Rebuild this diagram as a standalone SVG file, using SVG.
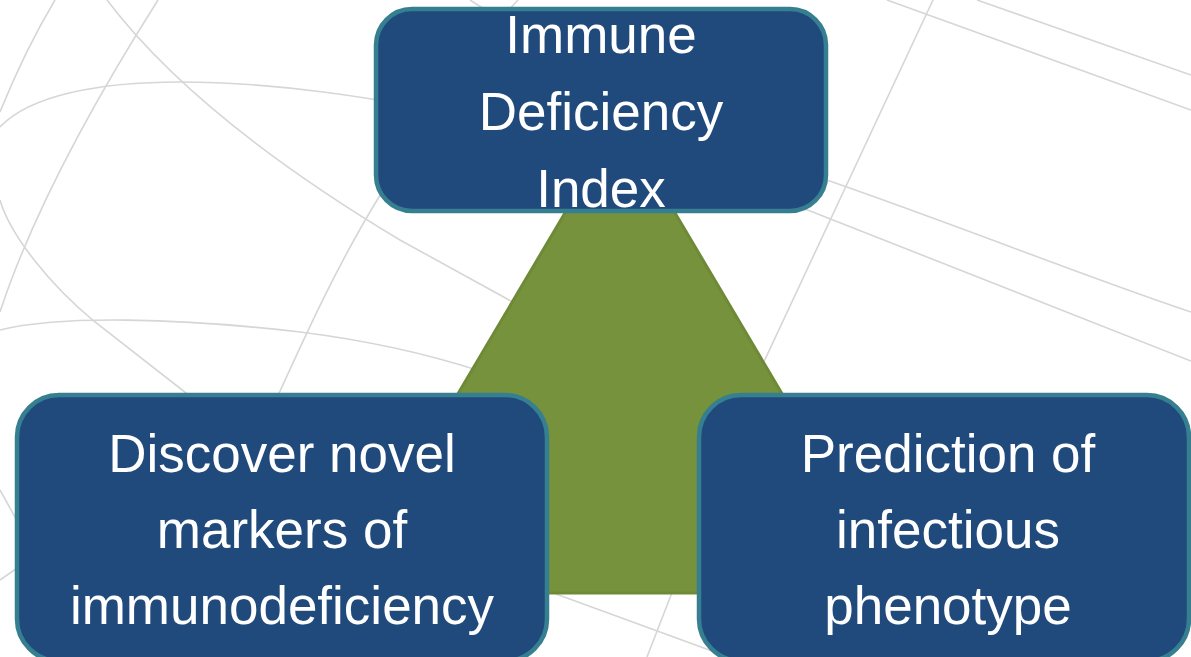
<svg xmlns="http://www.w3.org/2000/svg" width="1191" height="657" viewBox="0 0 1191 657">
  <style>
    .bg { fill: none; stroke: #D6D6D6; stroke-width: 1.6; }
    .box { fill: #214A7C; stroke: #367F91; stroke-width: 4.5; }
    .lbl { fill: #FFFFFF; font-family: "Liberation Sans", Arial, sans-serif; font-size: 53px; text-anchor: middle; }
  </style>
  <rect x="0" y="0" width="1191" height="657" fill="#FFFFFF"/>
  <g id="background-lines">
    <path class="bg" d="M55,0 Q25,50 0,112"/>
    <path class="bg" d="M158,0 C120,60 40,190 0,312"/>
    <path class="bg" d="M107,0 C160,70 250,150 400,240 L520,306"/>
    <path class="bg" d="M0,127 C30,95 100,82 180,82 C280,82 380,100 410,106"/>
    <path class="bg" d="M0,200 C10,235 50,285 95,322 L195,400"/>
    <path class="bg" d="M0,330 C60,315 180,318 300,332 C380,342 440,358 480,371"/>
    <path class="bg" d="M382,192 C340,260 310,325 276,400"/>
    <path class="bg" d="M470,0 L492,14"/>
    <path class="bg" d="M518,0 L505,14"/>
    <path class="bg" d="M933,0 L762,366"/>
    <path class="bg" d="M887,0 L1191,110"/>
    <path class="bg" d="M977,0 L1191,75"/>
    <path class="bg" d="M815,176 C950,222 1080,275 1191,312"/>
    <path class="bg" d="M800,207 L1191,361"/>
    <path class="bg" d="M0,490 L20,526"/>
    <path class="bg" d="M0,580 L20,566"/>
    <path class="bg" d="M556,594 L712,651"/>
    <path class="bg" d="M673,590 L647,657"/>
  </g>
  <g id="connectors">
    <polygon points="620,120 900,593 340,593" fill="#76923C" stroke="#6E8A37" stroke-width="3" stroke-linejoin="round"/>
  </g>
  <g id="node-top">
    <rect class="box" x="376" y="9" width="450" height="202" rx="36" ry="36"/>
    <text class="lbl" x="601" y="53">Immune</text>
    <text class="lbl" x="601" y="130">Deficiency</text>
    <text class="lbl" x="601" y="207">Index</text>
  </g>
  <g id="node-left">
    <rect class="box" x="17" y="395" width="530" height="266" rx="42" ry="42"/>
    <text class="lbl" x="282" y="472">Discover novel</text>
    <text class="lbl" x="282" y="548">markers of</text>
    <text class="lbl" x="282" y="624">immunodeficiency</text>
  </g>
  <g id="node-right">
    <rect class="box" x="699" y="395" width="490" height="266" rx="42" ry="42"/>
    <text class="lbl" x="948" y="472">Prediction of</text>
    <text class="lbl" x="948" y="548">infectious</text>
    <text class="lbl" x="948" y="624">phenotype</text>
  </g>
</svg>
